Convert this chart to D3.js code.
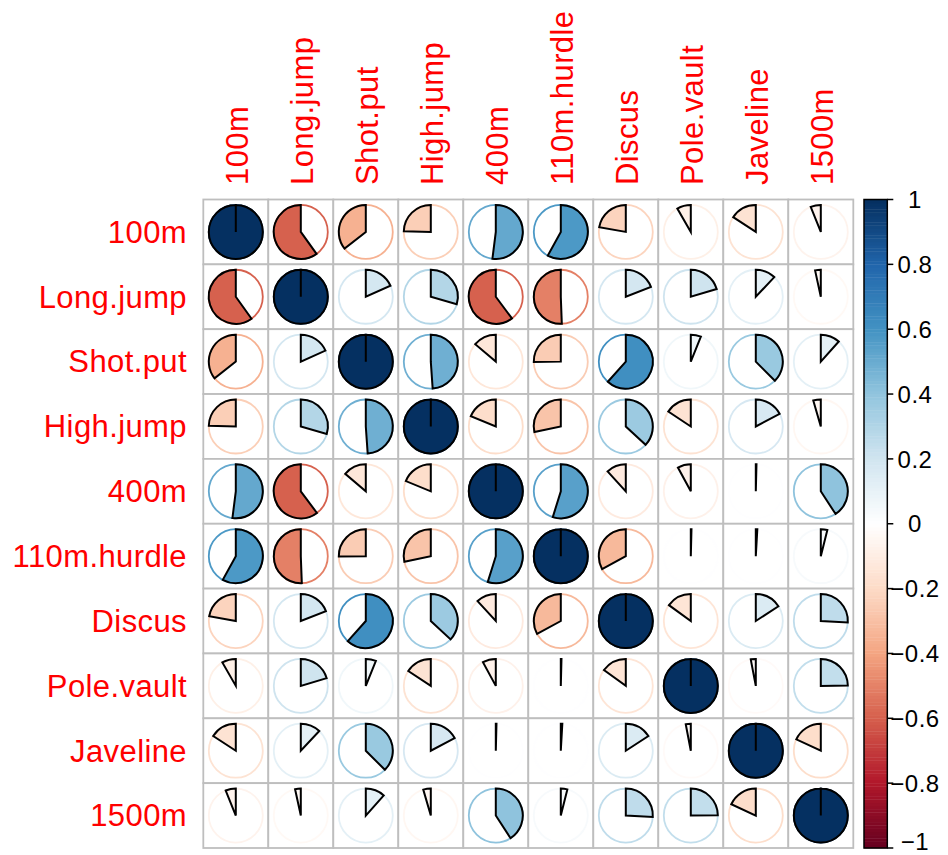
<!DOCTYPE html>
<html>
<head>
<meta charset="utf-8">
<script src="https://cdn.jsdelivr.net/npm/d3@7"></script>
<style>
  html, body { margin: 0; padding: 0; background: #ffffff; }
  svg { display: block; }
  text { font-family: "Liberation Sans", Arial, Helvetica, sans-serif; }
</style>
</head>
<body>
<svg id="chart" width="948" height="855"></svg>
<script>
// Decathlon events (row and column order of the correlation matrix)
const variables = ["100m", "Long.jump", "Shot.put", "High.jump", "400m",
                   "110m.hurdle", "Discus", "Pole.vault", "Javeline", "1500m"];

// Pearson correlations between the events
const corrMatrix = [
  [ 1.000, -0.599, -0.356, -0.246,  0.520,  0.580, -0.222, -0.083, -0.158, -0.061],
  [-0.599,  1.000,  0.183,  0.295, -0.602, -0.506,  0.190,  0.204,  0.120, -0.034],
  [-0.356,  0.183,  1.000,  0.489, -0.138, -0.252,  0.616,  0.061,  0.375,  0.116],
  [-0.246,  0.295,  0.489,  1.000, -0.188, -0.283,  0.369, -0.157,  0.172, -0.045],
  [ 0.520, -0.602, -0.138, -0.188,  1.000,  0.548, -0.118, -0.079,  0.004,  0.408],
  [ 0.580, -0.506, -0.252, -0.283,  0.548,  1.000, -0.329,  0.004,  0.009,  0.039],
  [-0.222,  0.190,  0.616,  0.369, -0.118, -0.329,  1.000, -0.150,  0.158,  0.258],
  [-0.083,  0.204,  0.061, -0.157, -0.079,  0.004, -0.150,  1.000, -0.030,  0.248],
  [-0.158,  0.120,  0.375,  0.172,  0.004,  0.009,  0.158, -0.030,  1.000, -0.181],
  [-0.061, -0.034,  0.116, -0.045,  0.408,  0.039,  0.258,  0.248, -0.181,  1.000]
];

// Diverging red-blue palette stops, from -1 to +1
const paletteStops = ["#67001F", "#B2182B", "#D6604D", "#F4A582", "#FDDBC7", "#FFFFFF",
                      "#D1E5F0", "#92C5DE", "#4393C3", "#2166AC", "#053061"];

// Colour legend ticks
const legendTicks = [-1, -0.8, -0.6, -0.4, -0.2, 0, 0.2, 0.4, 0.6, 0.8, 1];

const svg = d3.select("#chart");

// Layout
const gridLeft = 203.3, gridRight = 853.3, gridTop = 199.5, gridBottom = 848;
const x = d3.scaleBand().domain(variables).range([gridLeft, gridRight]);
const y = d3.scaleBand().domain(variables).range([gridTop, gridBottom]);
const pieRadius = 27;

// 200-step ramp, linear in RGB between the palette stops
const ramp = d3.scaleLinear()
  .domain(d3.range(paletteStops.length).map(i => i / (paletteStops.length - 1)))
  .range(paletteStops)
  .interpolate(d3.interpolateRgb);
const nColors = 200;
const colorSteps = d3.range(nColors).map(i => ramp(i / (nColors - 1)));
const valueIndex = d3.scaleLinear().domain([-1, 1]).range([0, nColors - 1]).clamp(true);
const colorOf = v => colorSteps[Math.round(valueIndex(v))];

// Flatten matrix into cells
const cells = [];
corrMatrix.forEach((row, i) => row.forEach((v, j) => {
  cells.push({ row: variables[i], col: variables[j], value: v });
}));

// Grid
svg.append("g")
  .selectAll("rect")
  .data(cells)
  .join("rect")
  .attr("x", d => x(d.col))
  .attr("y", d => y(d.row))
  .attr("width", x.bandwidth())
  .attr("height", y.bandwidth())
  .attr("fill", "#ffffff")
  .attr("stroke", "#BEBEBE")
  .attr("stroke-width", 1.8);

// Wedge path: starts at 12 o'clock, clockwise for positive values,
// counter-clockwise for negative ones
function wedgePath(cx, cy, r, v) {
  const p = d3.path();
  const a0 = -Math.PI / 2;
  const sweep = 2 * Math.PI * v;
  p.moveTo(cx, cy);
  p.lineTo(cx, cy - r);
  if (Math.abs(v) >= 0.9999) {
    p.arc(cx, cy, r, a0, a0 + Math.PI, v < 0);
    p.arc(cx, cy, r, a0 + Math.PI, a0 + 2 * Math.PI, v < 0);
  } else if (Math.abs(sweep) > 1e-6) {
    p.arc(cx, cy, r, a0, a0 + sweep, v < 0);
  }
  p.closePath();
  return p.toString();
}

const pies = svg.append("g")
  .selectAll("g")
  .data(cells)
  .join("g")
  .attr("transform", d => `translate(${x(d.col) + x.bandwidth() / 2},${y(d.row) + y.bandwidth() / 2})`);

// Coloured outline circle
pies.append("circle")
  .attr("r", pieRadius)
  .attr("fill", "none")
  .attr("stroke", d => colorOf(d.value))
  .attr("stroke-width", 1.8);

// Filled wedge
pies.append("path")
  .attr("d", d => wedgePath(0, 0, pieRadius, d.value))
  .attr("fill", d => colorOf(d.value))
  .attr("stroke", "#000000")
  .attr("stroke-width", 2)
  .attr("stroke-linejoin", "miter");

// Row labels
svg.append("g")
  .selectAll("text")
  .data(variables)
  .join("text")
  .attr("x", 187)
  .attr("y", d => y(d) + y.bandwidth() / 2 + 10.8)
  .attr("text-anchor", "end")
  .attr("fill", "#FF0000")
  .attr("font-size", 31)
  .attr("letter-spacing", 0.4)
  .text(d => d);

// Column labels (rotated)
svg.append("g")
  .selectAll("text")
  .data(variables)
  .join("text")
  .attr("transform", d => `translate(${x(d) + x.bandwidth() / 2 + 11.8},185) rotate(-90)`)
  .attr("text-anchor", "start")
  .attr("fill", "#FF0000")
  .attr("font-size", 31)
  .attr("letter-spacing", 0.4)
  .text(d => d);

// Colour legend
const legendLeft = 864, legendRight = 887.3;
const legendY = d3.scaleLinear().domain([-1, 1]).range([gridBottom, gridTop]);
const legendBins = d3.range(nColors).map(i => ({
  lo: -1 + (2 * i) / nColors,
  hi: -1 + (2 * (i + 1)) / nColors,
  color: colorSteps[i]
}));

const legend = svg.append("g");
legend.selectAll("rect.bin")
  .data(legendBins)
  .join("rect")
  .attr("class", "bin")
  .attr("x", legendLeft)
  .attr("y", d => legendY(d.hi))
  .attr("width", legendRight - legendLeft)
  .attr("height", d => legendY(d.lo) - legendY(d.hi) + 0.4)
  .attr("fill", d => d.color);

legend.append("rect")
  .attr("x", legendLeft)
  .attr("y", legendY(1))
  .attr("width", legendRight - legendLeft)
  .attr("height", legendY(-1) - legendY(1))
  .attr("fill", "none")
  .attr("stroke", "#000000")
  .attr("stroke-width", 1.5);

legend.selectAll("line.tick")
  .data(legendTicks)
  .join("line")
  .attr("class", "tick")
  .attr("x1", legendRight)
  .attr("x2", legendRight + 6)
  .attr("y1", d => legendY(d))
  .attr("y2", d => legendY(d))
  .attr("stroke", "#000000")
  .attr("stroke-width", 1.5);

// Tick labels; the lowest one is nudged up so it stays inside the page
const fmt = d => (d < 0 ? "\u2212" : "") + d3.format("~g")(Math.abs(d));
legend.selectAll("text")
  .data(legendTicks)
  .join("text")
  .attr("x", 915)
  .attr("y", d => Math.min(legendY(d) + 8.6, 849.5))
  .attr("text-anchor", "middle")
  .attr("fill", "#000000")
  .attr("font-size", 24)
  .attr("letter-spacing", 0.5)
  .text(fmt);
</script>
</body>
</html>
